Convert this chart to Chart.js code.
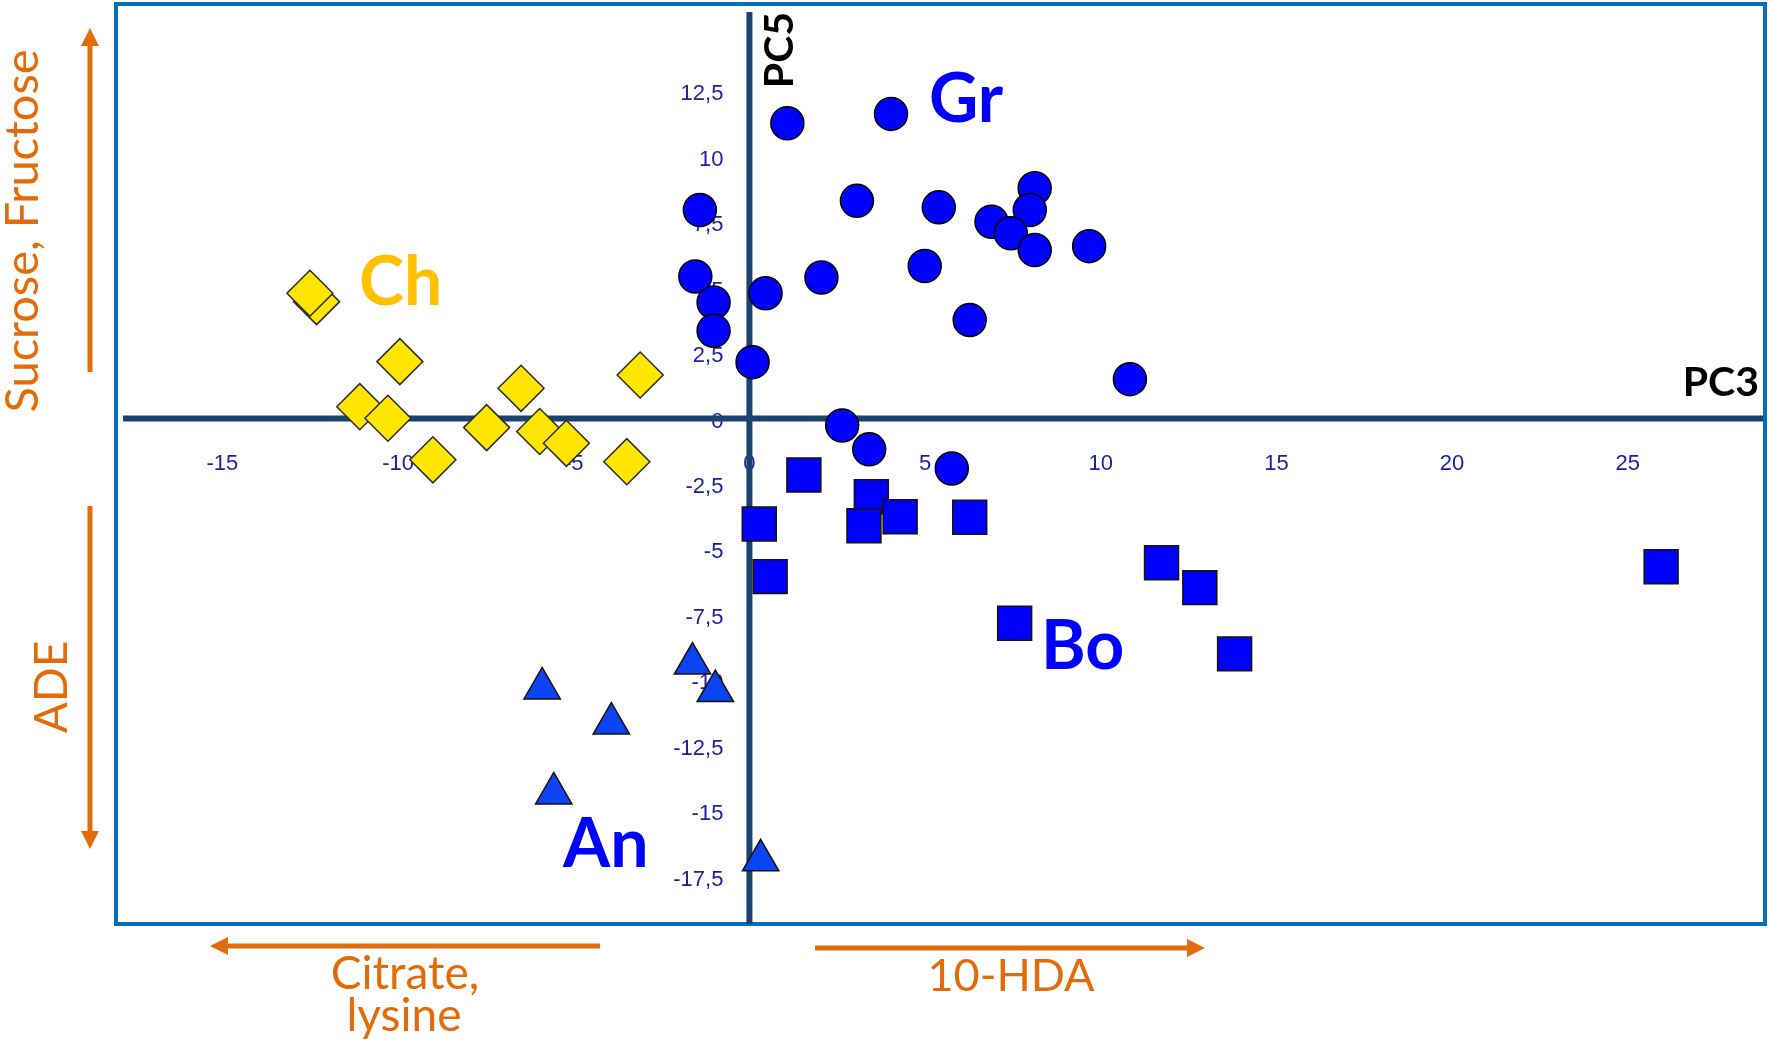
<!DOCTYPE html>
<html>
<head>
<meta charset="utf-8">
<script src="https://cdn.jsdelivr.net/npm/chart.js@4.4.1/dist/chart.umd.min.js"></script>
<style>
  body { margin: 0; background: #fff; }
</style>
</head>
<body>
<canvas id="myChart" width="1770" height="1043"></canvas>
<script>
// PC3 (x) / PC5 (y) scores
const grX = [1.08, 4.03, -1.41, 3.06, 5.39, 8.12, 7.98, 6.89, 7.44, 8.12, 9.67, 4.99, -1.54, 2.05, 0.46, -1.02, -1.02, 6.27, 0.09, 10.83, 2.64, 3.41, 5.76];
const grY = [11.27, 11.63, 7.96, 8.31, 8.06, 8.79, 7.96, 7.51, 7.07, 6.43, 6.58, 5.82, 5.42, 5.38, 4.78, 4.43, 3.35, 3.76, 2.15, 1.50, -0.27, -1.18, -1.91];

const chX = [-12.32, -12.51, -9.95, -11.09, -10.29, -9.01, -7.48, -6.50, -5.97, -5.21, -3.11, -3.49];
const chY = [4.46, 4.78, 2.17, 0.45, 0.01, -1.58, -0.35, 1.15, -0.50, -0.95, 1.66, -1.65];

const boX = [1.55, 0.28, 0.59, 3.47, 3.26, 4.29, 6.27, 7.55, 11.73, 12.82, 13.81, 25.95];
const boY = [-2.16, -4.03, -6.04, -2.99, -4.10, -3.75, -3.77, -7.82, -5.51, -6.46, -8.99, -5.66];

const anX = [-5.90, -3.93, -5.57, -1.62, -0.97, 0.32];
const anY = [-10.31, -11.65, -14.32, -9.36, -10.41, -16.87];

const xTicks = [-15, -10, -5, 0, 5, 10, 15, 20, 25];
const yTicks = [12.5, 10, 7.5, 5, 2.5, 0, -2.5, -5, -7.5, -10, -12.5, -15, -17.5];

function pts(xs, ys) {
  return xs.map((v, i) => ({ x: v, y: ys[i] }));
}
function fmt(v) {
  return String(v).replace('.', ',');
}

const orange = '#E36C0A';

function arrow(c, x1, y1, x2, y2) {
  const a = Math.atan2(y2 - y1, x2 - x1);
  const ca = Math.cos(a), sa = Math.sin(a);
  c.beginPath();
  c.moveTo(x1, y1);
  c.lineTo(x2 - 12 * ca, y2 - 12 * sa);
  c.stroke();
  c.beginPath();
  c.moveTo(x2, y2);
  c.lineTo(x2 - 18 * ca + 9 * sa, y2 - 18 * sa - 9 * ca);
  c.lineTo(x2 - 18 * ca - 9 * sa, y2 - 18 * sa + 9 * ca);
  c.closePath();
  c.fill();
}

function vtext(c, txt, x, y) {
  c.save();
  c.translate(x, y);
  c.rotate(-Math.PI / 2);
  c.fillText(txt, 0, 0);
  c.restore();
}

// frame, axes through the origin, tick labels, orange loadings notes
const decor = {
  id: 'decor',
  beforeDatasetsDraw(chart) {
    const c = chart.ctx;
    const xs = chart.scales.x;
    const ys = chart.scales.y;
    const a = chart.chartArea;
    const x0 = xs.getPixelForValue(0);
    const y0 = ys.getPixelForValue(0);
    c.save();

    c.strokeStyle = '#0070C0';
    c.lineWidth = 4;
    c.strokeRect(a.left - 7, a.top - 8, a.right - a.left + 9, a.bottom - a.top + 6);

    // tick labels
    c.fillStyle = '#1C239A';
    c.font = '22px "Liberation Sans"';
    c.textAlign = 'center';
    c.textBaseline = 'middle';
    xTicks.forEach(t => c.fillText(fmt(t), xs.getPixelForValue(t), y0 + 45));
    c.textAlign = 'right';
    yTicks.forEach(t => c.fillText(fmt(t), x0 - 26, ys.getPixelForValue(t) + 3));

    c.strokeStyle = '#1B4170';
    c.lineWidth = 6;
    c.beginPath();
    c.moveTo(a.left, y0);
    c.lineTo(a.right, y0);
    c.stroke();
    c.beginPath();
    c.moveTo(x0, a.top);
    c.lineTo(x0, a.bottom - 2);
    c.stroke();

    // axis names
    c.fillStyle = '#000';
    c.font = 'bold 41px Lato';
    c.textAlign = 'center';
    c.textBaseline = 'middle';
    vtext(c, 'PC5', x0 + 30, 50);
    c.textAlign = 'right';
    c.fillText('PC3', a.right - 4, y0 - 36);

    // orange arrows + text
    c.strokeStyle = orange;
    c.fillStyle = orange;
    c.lineWidth = 5;
    arrow(c, 90, 372, 90, 28);
    arrow(c, 90, 506, 90, 849);
    arrow(c, 600, 946, 210, 946);
    arrow(c, 815, 948, 1205, 948);

    c.textAlign = 'center';
    c.textBaseline = 'middle';
    c.font = '47px Lato';
    vtext(c, 'Sucrose, Fructose', 23, 231);
    c.font = '46px Lato';
    vtext(c, 'ADE', 52, 687);
    c.fillText('Citrate,', 405, 974);
    c.fillText('lysine', 404, 1016);
    c.font = '45px Lato';
    c.fillText('10-HDA', 1011, 976);

    c.restore();
  },
  afterDatasetsDraw(chart) {
    const c = chart.ctx;
    c.save();
    c.font = 'bold 68px Lato';
    c.textAlign = 'left';
    c.textBaseline = 'alphabetic';
    c.fillStyle = '#0000FF';
    c.fillText('Gr', 929, 122);
    c.fillText('Bo', 1041, 669);
    c.fillText('An', 563, 867);
    c.fillStyle = '#FFC000';
    c.fillText('Ch', 359, 305);
    c.restore();
  }
};

const ctx = document.getElementById('myChart');

new Chart(ctx, {
  type: 'scatter',
  data: {
    datasets: [
      {
        label: 'Gr',
        data: pts(grX, grY),
        pointStyle: 'circle',
        pointRadius: 16.5,
        pointHoverRadius: 16.5,
        backgroundColor: '#0000FF',
        borderColor: '#000',
        borderWidth: 1.5
      },
      {
        label: 'Bo',
        data: pts(boX, boY),
        pointStyle: 'rect',
        pointRadius: 24,
        pointHoverRadius: 24,
        backgroundColor: '#0000FF',
        borderColor: '#1a1208',
        borderWidth: 1.5
      },
      {
        label: 'An',
        data: pts(anX, anY),
        pointStyle: 'triangle',
        pointRadius: 21,
        pointHoverRadius: 21,
        backgroundColor: '#0A44F5',
        borderColor: '#1a1208',
        borderWidth: 1.5
      },
      {
        label: 'Ch',
        data: pts(chX, chY),
        pointStyle: 'rectRot',
        pointRadius: 23,
        pointHoverRadius: 23,
        backgroundColor: '#FFE500',
        borderColor: '#2b2b2b',
        borderWidth: 1.5
      }
    ]
  },
  options: {
    responsive: false,
    animation: false,
    devicePixelRatio: 1,
    layout: {
      autoPadding: false,
      padding: { left: 123, right: 7, top: 12, bottom: 117 }
    },
    scales: {
      x: { type: 'linear', min: -17.83, max: 28.85, display: false },
      y: { type: 'linear', min: -19.38, max: 15.52, display: false }
    },
    plugins: {
      legend: { display: false },
      tooltip: { enabled: false }
    }
  },
  plugins: [decor]
});
</script>
</body>
</html>
